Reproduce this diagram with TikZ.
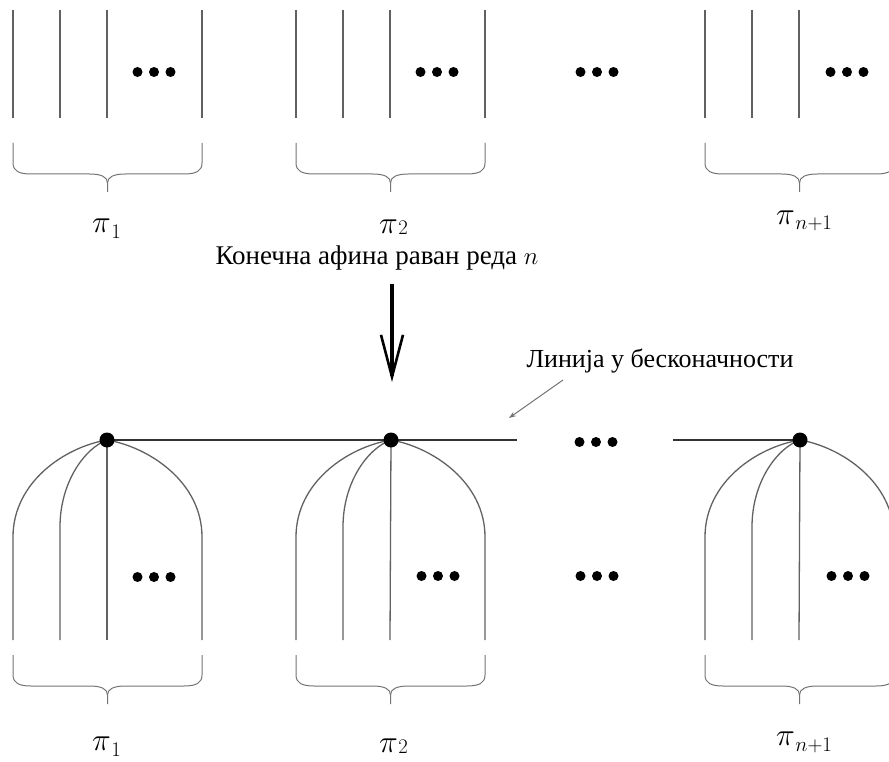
\documentclass[tikz,border=0pt]{standalone}
\usepackage{fontspec}
\newfontfamily\cyr{Liberation Serif}
\usetikzlibrary{arrows.meta}
\tikzset{
  ln/.style={draw=black!62, line width=1.3pt},
  infl/.style={draw=black!80, line width=1.3pt},
  br/.style={draw=black!55, line width=1pt},
  bdot/.style={circle, fill=black, inner sep=0pt, minimum size=10pt},
  vtx/.style={circle, fill=black, inner sep=0pt, minimum size=15pt},
  lab/.style={font=\fontsize{24}{28}\selectfont, inner sep=0pt, anchor=base west},
  txt/.style={font=\cyr\fontsize{27}{31}\selectfont, inner sep=0pt},
}
\newcommand\pilbl[2]{\scalebox{1.27}{$\pi$}\kern0.5pt\raisebox{#1}{\fontsize{22}{24}\selectfont$#2$}}
\newcommand\mybrace[3]{%
  \pgfmathsetmacro\bm{(#1+#2)/2}%
  \draw[br] (#1,#3) -- (#1,#3+20) .. controls (#1,#3+28) and (#1+6,#3+31) .. (#1+18,#3+31)
     -- (\bm-18,#3+31) .. controls (\bm-6,#3+31) and (\bm,#3+34) .. (\bm,#3+40) -- (\bm,#3+49);
  \draw[br] (#2,#3) -- (#2,#3+20) .. controls (#2,#3+28) and (#2-6,#3+31) .. (#2-18,#3+31)
     -- (\bm+18,#3+31) .. controls (\bm+6,#3+31) and (\bm,#3+34) .. (\bm,#3+40);
}
\newcommand\dotrow[3]{% name, x, y
  \node[bdot] (#1a) at (#2-16.5,#3) {};
  \node[bdot] (#1b) at (#2,#3) {};
  \node[bdot] (#1c) at (#2+16.5,#3) {};
}
\begin{document}
\begin{tikzpicture}[x=1pt,y=-1pt]
\useasboundingbox (0,0) rectangle (889,762);
\clip (0,0) rectangle (889,762);
% ---------- top row ----------
\foreach \L in {13,296,705}{
  \foreach \d in {0,47,94,189}{
    \draw[ln] (\L+\d,10) -- (\L+\d,118);
  }
  \mybrace{\L}{\L+189}{143}
}
\dotrow{ta}{154}{72}
\dotrow{tb}{437}{72}
\dotrow{tm}{597}{72}
\dotrow{tc}{847}{72}
\node[lab] (tp1) at (92,233) {\pilbl{-6pt}{1}};
\node[lab] (tp2) at (379,234) {\pilbl{-1pt}{2}};
\node[lab] (tp3) at (776,225) {\pilbl{-5pt}{n{+}1}};
% ---------- middle ----------
\node[txt] (title) at (377,258) {Конечна афина раван реда $n$};
\coordinate (as) at (392,284);
\coordinate (ae) at (392,382);
\draw[line width=3.6pt, -{Straight Barb[length=42pt,width=22pt,line width=2.6pt]}] (as) -- (ae);
\node[txt, font=\cyr\fontsize{26}{30}\selectfont] (inftxt) at (660,361) {Линија у бесконачности};
\coordinate (gs) at (563,380);
\coordinate (ge) at (509,418);
\draw[draw=black!55, line width=1pt, -{Stealth[length=7pt,width=5pt]}] (gs) -- (ge);
% ---------- bottom row ----------
\coordinate (c1) at (107,440);
\coordinate (c2) at (391,440);
\coordinate (c3) at (800,440);
\coordinate (ia) at (517,440);
\coordinate (ib) at (673,440);
\draw[infl] (c1) -- (c2) -- (ia);
\draw[infl] (ib) -- (c3);
\dotrow{im}{596}{442}
\foreach \L/\v in {13/c1,296/c2,705/c3}{
  \draw[ln] (\v) .. controls (\L+52,447) and (\L,482) .. (\L,537) -- (\L,640);
  \draw[ln] (\v) .. controls (\L+72,448) and (\L+47,482) .. (\L+47,527) -- (\L+47,640);
  \draw[ln] (\v) -- (\L+94,640);
  \draw[ln] (\v) .. controls (\L+136,447) and (\L+189,482) .. (\L+189,537) -- (\L+189,640);
  \mybrace{\L}{\L+189}{655}
}
\node[vtx] (v1) at (c1) {};
\node[vtx] (v2) at (c2) {};
\node[vtx] (v3) at (c3) {};
\dotrow{ba}{154}{577}
\dotrow{bb}{438}{576}
\dotrow{bm}{597}{576}
\dotrow{bc}{848}{576}
\node[lab] (bp1) at (92,750) {\pilbl{-6pt}{1}};
\node[lab] (bp2) at (379,752) {\pilbl{-1pt}{2}};
\node[lab] (bp3) at (776,745) {\pilbl{-6pt}{n{+}1}};
\end{tikzpicture}
\end{document}
